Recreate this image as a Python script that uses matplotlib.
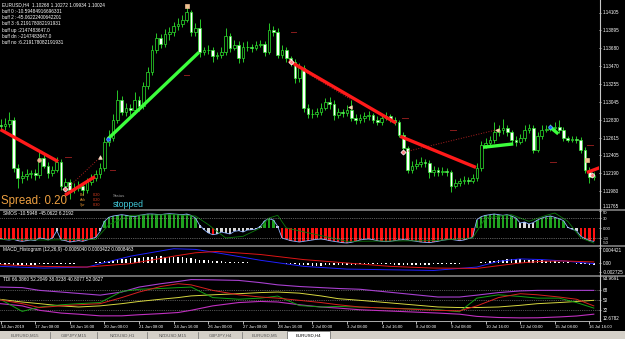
import numpy as np
import matplotlib
matplotlib.use('Agg')
import matplotlib.pyplot as plt
from matplotlib.lines import Line2D
from matplotlib.patches import Rectangle

plt.rcParams['font.family'] = ['Liberation Sans', 'DejaVu Sans']

# ---- EURUSD H4 candles (price) ----
first_open = 1.1277
closes = [
    1.1275, 1.1278, 1.1283, 1.1225, 1.1213, 1.1216, 1.1218, 1.1219, 1.1217, 1.1237,
    1.1228, 1.1219, 1.1223, 1.1232, 1.1204, 1.1209, 1.1199, 1.1202, 1.1204, 1.1199,
    1.1209, 1.1213, 1.1218, 1.1225, 1.1256, 1.1261, 1.1283, 1.1306, 1.1292, 1.1297,
    1.1294, 1.1306, 1.1299, 1.1323, 1.1340, 1.1366, 1.1380, 1.1373, 1.1385, 1.1387,
    1.1394, 1.1397, 1.1402, 1.1411, 1.1387, 1.1392, 1.1363, 1.1366, 1.1366, 1.1359,
    1.1360, 1.1363, 1.1382, 1.1368, 1.1372, 1.1356, 1.1370, 1.1369, 1.1368, 1.1372,
    1.1373, 1.1363, 1.1390, 1.1387, 1.1360, 1.1366, 1.1356, 1.1351, 1.1332, 1.1344,
    1.1297, 1.1290, 1.1290, 1.1292, 1.1297, 1.1304, 1.1302, 1.1288, 1.1292, 1.1291,
    1.1294, 1.1285, 1.1283, 1.1285, 1.1287, 1.1288, 1.1283, 1.1280, 1.1285, 1.1287,
    1.1283, 1.1280, 1.1265, 1.1249, 1.1223, 1.1228, 1.1230, 1.1232, 1.1231, 1.1220,
    1.1223, 1.1220, 1.1222, 1.1220, 1.1204, 1.1207, 1.1210, 1.1211, 1.1210, 1.1213,
    1.1225, 1.1253, 1.1255, 1.1259, 1.1268, 1.1271, 1.1273, 1.1268, 1.1259, 1.1256,
    1.1261, 1.1271, 1.1273, 1.1247, 1.1263, 1.1271, 1.1272, 1.1273, 1.1274, 1.1271,
    1.1261, 1.1259, 1.1260, 1.1259, 1.1247, 1.1223, 1.1215, 1.1216]
highs = [
    1.1284, 1.1285, 1.1292, 1.1286, 1.1230, 1.1222, 1.1224, 1.1223, 1.1224, 1.1244,
    1.1242, 1.1232, 1.1228, 1.1238, 1.1236, 1.1214, 1.1212, 1.1207, 1.1210, 1.1207,
    1.1214, 1.1218, 1.1223, 1.1231, 1.1262, 1.1270, 1.1290, 1.1318, 1.1311, 1.1303,
    1.1302, 1.1316, 1.1311, 1.1328, 1.1346, 1.1372, 1.1386, 1.1385, 1.1391, 1.1393,
    1.1399, 1.1404, 1.1408, 1.1418, 1.1414, 1.1398, 1.1403, 1.1370, 1.1372, 1.1370,
    1.1364, 1.1370, 1.1392, 1.1386, 1.1378, 1.1376, 1.1375, 1.1376, 1.1373, 1.1377,
    1.1378, 1.1376, 1.1398, 1.1395, 1.1392, 1.1372, 1.1370, 1.1359, 1.1355, 1.1350,
    1.1348, 1.1301, 1.1296, 1.1297, 1.1303, 1.1309, 1.1310, 1.1306, 1.1297, 1.1296,
    1.1300, 1.1306, 1.1290, 1.1290, 1.1292, 1.1293, 1.1291, 1.1287, 1.1289, 1.1292,
    1.1290, 1.1286, 1.1283, 1.1268, 1.1252, 1.1234, 1.1236, 1.1238, 1.1236, 1.1235,
    1.1228, 1.1226, 1.1226, 1.1225, 1.1223, 1.1212, 1.1214, 1.1216, 1.1215, 1.1218,
    1.1231, 1.1258, 1.1261, 1.1264, 1.1280, 1.1276, 1.1284, 1.1276, 1.1271, 1.1263,
    1.1266, 1.1277, 1.1278, 1.1276, 1.1268, 1.1276, 1.1277, 1.1278, 1.1280, 1.1282,
    1.1274, 1.1264, 1.1264, 1.1264, 1.1262, 1.1250, 1.1226, 1.1220]
lows = [
    1.1270, 1.1271, 1.1274, 1.1221, 1.1202, 1.1208, 1.1211, 1.1214, 1.1211, 1.1213,
    1.1225, 1.1214, 1.1216, 1.1220, 1.1199, 1.1198, 1.1189, 1.1195, 1.1198, 1.1193,
    1.1196, 1.1205, 1.1210, 1.1214, 1.1222, 1.1251, 1.1258, 1.1279, 1.1288, 1.1287,
    1.1288, 1.1290, 1.1293, 1.1296, 1.1319, 1.1336, 1.1362, 1.1368, 1.1370, 1.1378,
    1.1383, 1.1390, 1.1393, 1.1399, 1.1383, 1.1382, 1.1358, 1.1360, 1.1361, 1.1352,
    1.1355, 1.1356, 1.1360, 1.1364, 1.1366, 1.1350, 1.1352, 1.1365, 1.1364, 1.1366,
    1.1369, 1.1359, 1.1361, 1.1383, 1.1356, 1.1356, 1.1351, 1.1347, 1.1327, 1.1328,
    1.1292, 1.1285, 1.1285, 1.1286, 1.1289, 1.1294, 1.1296, 1.1283, 1.1285, 1.1286,
    1.1287, 1.1281, 1.1278, 1.1279, 1.1280, 1.1283, 1.1279, 1.1276, 1.1277, 1.1282,
    1.1280, 1.1276, 1.1262, 1.1246, 1.1219, 1.1219, 1.1224, 1.1226, 1.1227, 1.1214,
    1.1216, 1.1216, 1.1217, 1.1216, 1.1197, 1.1201, 1.1204, 1.1206, 1.1206, 1.1207,
    1.1210, 1.1222, 1.1249, 1.1251, 1.1255, 1.1264, 1.1266, 1.1263, 1.1255, 1.1252,
    1.1254, 1.1258, 1.1267, 1.1243, 1.1244, 1.1260, 1.1268, 1.1269, 1.1270, 1.1267,
    1.1258, 1.1256, 1.1256, 1.1255, 1.1243, 1.1219, 1.1208, 1.1211]

price_ticks = [1.14105, 1.13895, 1.13680, 1.13470, 1.13255, 1.13045,
               1.12830, 1.12615, 1.12405, 1.12190, 1.11980, 1.11765]

# trend segments drawn by the indicator (bar index, price)
seg_bar0 = [0, 14.9, 24.8, 66.6, 92.3, 111.4, 126.9, 135.4]
seg_p0 = [1.1271, 1.1193, 1.1260, 1.1353, 1.1263, 1.1250, 1.1274, 1.1220]
seg_bar1 = [13.3, 21.8, 45.8, 91.3, 109.8, 118.4, 128.8, 138.5]
seg_p1 = [1.1233, 1.1215, 1.1363, 1.1279, 1.1226, 1.1254, 1.1266, 1.1226]
seg_kind = ['dn', 'dn', 'up', 'dn', 'dn', 'up', 'up', 'dn']

dot_bar0 = [15.6, 67.3, 93.0]
dot_p0 = [1.1202, 1.1349, 1.1244]
dot_bar1 = [23.0, 81.2, 114.7]
dot_p1 = [1.1238, 1.1306, 1.1271]

mark_bars = [9.0, 15.0, 23.0, 24.8, 43.0, 67.0, 80.7, 93.0, 114.7, 126.9, 135.5, 136.5]
mark_prices = [1.1235, 1.1200, 1.1238, 1.1260, 1.1418, 1.1352, 1.1298, 1.1244,
               1.1271, 1.1274, 1.1235, 1.1217]
mark_kind = ['o', 'D', '^', 'b', 's', 'D', '<', 'D', '<', 'b', 's', 'D']

dash_bars = [15.6, 25.8, 43.0, 67.6, 93.4, 104.5, 127.6, 136.1]
dash_prices = [1.1238, 1.1223, 1.1336, 1.1387, 1.1285, 1.1271, 1.1233, 1.1253]

# ---- SMOS ----
smos = [
    -32, -35, -36, -34, -38, -40, -38, -36, -38, -30, -32, -36, -30,
    -8,
    -36, -38, -42, -40, -38, -40, -36, -32, -28,
    -10, 20,
    32, 36, 38, 40, 38, 36, 34, 38, 40, 42, 42, 41, 40, 42, 43, 42, 41, 40, 42, 38, 30,
    8, -5, -15, -20, -18, -12, -15, -18, -10, -8, -12, -6, -5, -3, 5,
    22, 28, 24,
    5,
    -30, -34, -38, -40, -42, -40, -38, -36, -34, -33, -35, -38, -40, -42, -44,
    -45, -43, -40, -36, -34, -33, -35, -38, -40, -41, -40, -38, -36, -35, -36,
    -38, -40, -42, -43, -44, -42, -40, -37, -35, -34, -36, -38, -36, -32, -28,
    25, 34, 38, 40, 42, 40, 38, 40, 36, 30,
    15, 18, 12, 16,
    24, 30, 34, 36, 32, 28, 22,
    2, -4, -8,
    -25, -32, -38, -40]
smos_sig_bars = [0, 10, 22, 25, 30, 40, 45, 48, 52, 56, 60, 62, 64, 66, 80,
                 100, 109, 112, 118, 122, 126, 128, 131, 134, 137]
smos_sig = [-34, -36, -34, 10, 38, 40, 36, 10, -30, -25, 0, 30, 38, 0, -40,
            -38, -30, 30, 40, 20, 38, 45, 20, -30, -45]

# ---- MACD histogram ----
macd_hist = [
    -0.0004, -0.0005, -0.0004, -0.0006, -0.0007, -0.0006, -0.0005, -0.0006, -0.0005, -0.0004,
    -0.0004, -0.0003, -0.0003, -0.0002, -0.0003, -0.0003, -0.0002, -0.0002, -0.0001,
    -0.0001, 0.0000, 0.0001, 0.0002, 0.0003,
    0.0005, 0.0007, 0.0009, 0.0011, 0.0012, 0.0013, 0.0014,
    0.0015, 0.0016, 0.0017, 0.0018, 0.0019, 0.0020, 0.0020, 0.0019, 0.0019, 0.0018, 0.0018, 0.0017,
    0.0016, 0.0014, 0.0012, 0.0010, 0.0009, 0.0008, 0.0007, 0.0006,
    0.0005, 0.0004, 0.0004, 0.0003, 0.0003, 0.0002, 0.0002, 0.0001, 0.0001, 0.0001,
    0.0001, 0.0001, 0.0000, 0.0000, -0.0001, -0.0002, -0.0003, -0.0004,
    -0.0005, -0.0006, -0.0007, -0.0008, -0.0008, -0.0008, -0.0007, -0.0007, -0.0006, -0.0006,
    -0.0006, -0.0005, -0.0005, -0.0005, -0.0004, -0.0004, -0.0004, -0.0004, -0.0003, -0.0003,
    -0.0003, -0.0004, -0.0005, -0.0006, -0.0007, -0.0007, -0.0007, -0.0006, -0.0006, -0.0005,
    -0.0005, -0.0004,
    -0.0004, -0.0003, -0.0003, -0.0002, -0.0002, -0.0002, -0.0001, -0.0001,
    0.0000, 0.0001, 0.0002, 0.0003,
    0.0005, 0.0007, 0.0009, 0.0010, 0.0011, 0.0012, 0.0012, 0.0011, 0.0010, 0.0010,
    0.0009, 0.0008, 0.0008,
    0.0007, 0.0006, 0.0005, 0.0004, 0.0003, 0.0002, 0.0001,
    -0.0002, -0.0003, -0.0004, -0.0005, -0.0006]
macd_bars = [0, 10, 20, 30, 40, 45, 50, 60, 70, 80, 90, 100, 110, 115, 120, 125, 130, 137]
macd_main = [-0.0010, -0.0015, -0.0012, 0.0020, 0.0042, 0.0040, 0.0030, 0.0008, -0.0010,
             -0.0018, -0.0020, -0.0022, -0.0012, 0.0005, 0.0012, 0.0010, 0.0006, -0.0002]
macd_signal = [-0.0005, -0.0010, -0.0012, -0.0002, 0.0020, 0.0030, 0.0034, 0.0025, 0.0010,
               0.0000, -0.0010, -0.0015, -0.0016, -0.0008, 0.0000, 0.0005, 0.0006, 0.0003]

# ---- TDI ----
tdi_bars = [0, 5, 9, 14, 18, 23, 28, 32, 37, 41, 44, 49, 55, 60, 64, 69, 74, 78, 83,
            92, 101, 106, 110, 115, 120, 124, 129, 133, 137]
tdi_upper = [74, 73, 68, 65, 62.5, 59.4, 65, 74, 80, 84, 87.5, 87, 86, 82, 78, 75, 73, 71.4,
             70, 63, 56, 56, 59.4, 64, 67, 68, 68, 68, 68]
tdi_lower = [44, 40, 32, 27, 25, 22, 22, 24, 26, 28, 32, 40, 46, 48, 47, 42, 38, 36, 33,
             30, 27, 25, 21, 19, 18.3, 18.5, 20, 21.7, 25]
tdi_mid = [51.7, 47, 44, 40, 38, 40, 44, 48, 52, 55, 58, 60, 62, 64, 65, 63, 58, 53, 50,
           44, 38, 37, 37, 38, 41, 44, 46, 48, 50]
tdi_rsi = [51.7, 30, 37.8, 42, 44, 46, 66, 70, 71.4, 73, 74, 55, 52, 54, 57.7, 40.6, 38, 39,
           37.8, 35.4, 33, 29.4, 54, 60, 57, 54, 54, 46, 36]
tdi_sig = [50.8, 44, 37, 40, 42, 44, 55, 65, 75, 80, 78, 68, 60, 56, 54, 50, 46, 42, 38,
           35, 32, 31, 40, 55, 62, 60, 56, 52, 40]

date_labels = ['14 Jun 2019', '17 Jun 08:00', '18 Jun 16:00', '20 Jun 00:00', '21 Jun 08:00',
               '24 Jun 16:00', '26 Jun 00:00', '27 Jun 08:00', '28 Jun 16:00', '2 Jul 00:00',
               '3 Jul 08:00', '4 Jul 16:00', '8 Jul 00:00', '9 Jul 08:00', '10 Jul 16:00',
               '12 Jul 00:00', '15 Jul 08:00', '16 Jul 16:00']
date_bars = [8 * k for k in range(len(date_labels))]

info_lines = ['EURUSD,H4  1.10268 1.10272 1.09934 1.10024',
              'buff 0 :-10.59484916696331',
              'buff 2 :-45.06222400642201',
              'buff 3 :6.219178082191931',
              'buff up :2147483647.0',
              'buff dn :-2147483647.0',
              'buff no :6.219178082191931']
tabs = ['EURUSD,M15', 'GBPJPY,M15', 'NZDUSD,H1', 'NZDUSD,M15', 'GBPJPY,H4', 'EURUSD,M5', 'EURUSD,H4']
tab_edges = [0, 50, 97, 147, 198, 242, 287, 330]

W, H = 625, 339
XMIN, XMAX = -0.12, 138.2
GREEN = '#2ee82e'

fig = plt.figure(figsize=(W / 100, H / 100), dpi=100, facecolor='black')


def panel(top, bottom):
    ax = fig.add_axes([0, 1 - bottom / H, 599 / W, (bottom - top) / H])
    ax.set_facecolor('black')
    for s in ax.spines.values():
        s.set_visible(False)
    ax.set_xlim(XMIN, XMAX)
    ax.tick_params(axis='x', bottom=False, labelbottom=False)
    ax.yaxis.tick_right()
    ax.tick_params(axis='y', colors='white', labelsize=3.3, length=1.5, width=0.5, pad=1)
    return ax


def set_right_labels(ax, ticks, labels, first_va='center', last_va='center'):
    # first tick is the top one, last is the bottom one; nudge them inside the panel
    ax.set_yticks(ticks)
    ax.set_yticklabels(labels)
    tl = ax.get_yticklabels()
    tl[0].set_va(first_va)
    tl[-1].set_va(last_va)


def ftext(x, y, s, **kw):
    fig.text(x / W, 1 - y / H, s, **kw)


# ---- main price panel ----
ax = panel(1, 209)
ax.set_ylim(1.11765, 1.14242)
x = np.arange(len(closes))
o = np.array([first_open] + closes[:-1])
c = np.array(closes)
ax.vlines(x, lows, highs, color=GREEN, lw=0.6, zorder=2)
body_col = np.where(c >= o, 'black', 'white')
ax.bar(x, c - o, bottom=o, width=0.62, color=body_col, edgecolor=GREEN, linewidth=0.5, zorder=3)
set_right_labels(ax, price_ticks, [f'{p:.5f}' for p in price_ticks], last_va='bottom')

for b0, p0, b1, p1 in zip(dot_bar0, dot_p0, dot_bar1, dot_p1):
    ax.plot([b0, b1], [p0, p1], color='#b02020', ls=':', lw=0.7, zorder=4)
for b0, p0, b1, p1, k in zip(seg_bar0, seg_p0, seg_bar1, seg_p1, seg_kind):
    col = '#ff1a1a' if k == 'dn' else '#3cff3c'
    ax.plot([b0, b1], [p0, p1], color=col, lw=2.4, solid_capstyle='butt', zorder=5)
for b, p in zip(dash_bars, dash_prices):
    ax.plot([b - 0.6, b + 0.6], [p, p], color='#8a1c1c', lw=0.7, zorder=4)
mark_style = {'o': ('o', '#f0b090', '#f0b090'), 'D': ('D', '#ff8080', 'white'),
              '^': ('^', '#f8e0c8', '#f8e0c8'), 'b': ('o', '#2050ff', '#60d0ff'),
              's': ('s', '#f0c090', '#f0c090'), '<': ('<', '#f8d8b0', '#f8d8b0')}
for b, p, k in zip(mark_bars, mark_prices, mark_kind):
    m, fc, ec = mark_style[k]
    ax.plot(b, p, marker=m, ms=2.6, mfc=fc, mec=ec, mew=0.5, zorder=6)

# ---- SMOS panel ----
ax_s = panel(210, 245)
ax_s.set_ylim(-51, 54)
smos_col = ['#1fa21f' if v >= 20 else ('#ff1010' if v <= -20 else '#d8d8d8') for v in smos]
ax_s.bar(x, smos, width=0.55, color=smos_col)
ax_s.plot(x, smos, color='#90b4ff', lw=0.6)
ax_s.plot(smos_sig_bars, smos_sig, color='#0c7a0c', lw=0.6)
for lv in (30, -30):
    ax_s.axhline(lv, color='#b0b0b0', ls=':', lw=0.5)
set_right_labels(ax_s, [50, 30, 0, -30, -50], ['50', '30', '0.00', '-30', '-50'],
                 first_va='top', last_va='bottom')
ax_s.tick_params(axis='y', labelsize=3.0)
ax_s.text(0.5, 50, 'SMOS -10.5948 -45.0622 6.2192', color='white', fontsize=3.4, va='top')

# ---- MACD panel ----
ax_m = panel(246, 275)
ax_m.set_ylim(-0.00354, 0.0050)
ax_m.bar(x, macd_hist, width=0.35, color='white')
ax_m.plot(macd_bars, macd_main, color='#2020ff', lw=0.7)
ax_m.plot(macd_bars, macd_signal, color='#e01515', lw=0.7)
set_right_labels(ax_m, [0.004421, 0.0, -0.002725], ['0.004421', '0.00', '-0.002725'],
                 first_va='top')
ax_m.text(0.5, 0.0048, 'MACD_Histogram (12,26,9) -0.0005040 0.0003422 0.0008463',
          color='white', fontsize=3.4, va='top')

# ---- TDI panel ----
ax_t = panel(276, 321)
ax_t.set_ylim(12.6782, 93.9691)
for lv in (68, 50, 32):
    ax_t.axhline(lv, color='#a0a0a0', ls=':', lw=0.5)
ax_t.plot(tdi_bars, tdi_upper, color='#a840d0', lw=0.8)
ax_t.plot(tdi_bars, tdi_lower, color='#c030c0', lw=0.8)
ax_t.plot(tdi_bars, tdi_mid, color='#d8d840', lw=0.7)
ax_t.plot(tdi_bars, tdi_rsi, color='#14a014', lw=0.7)
ax_t.plot(tdi_bars, tdi_sig, color='#d82020', lw=0.7)
set_right_labels(ax_t, [93.9691, 68, 50, 32, 12.6782], ['93.9691', '68', '50', '32', '12.6782'],
                 first_va='top', last_va='bottom')
ax_t.text(0.5, 92, 'TDI 66.3860 52.2049 38.0238 40.8077 52.0627', color='white', fontsize=3.4, va='top')
ax_t.set_xticks(date_bars)
ax_t.set_xticklabels(date_labels, ha='left')
ax_t.tick_params(axis='x', bottom=True, labelbottom=True, colors='white', labelsize=3.1,
                 length=2, width=0.5, pad=1.2)

# ---- separators / borders ----
for yy in (209.5, 245.5, 275.5):
    fig.add_artist(Line2D([0, 1], [1 - yy / H] * 2, color='#8c8c8c', lw=1.1))
fig.add_artist(Line2D([599.5 / W] * 2, [1 - 321 / H, 1], color='#c8c8c8', lw=0.8))
fig.add_artist(Line2D([0, 599.5 / W], [1 - 321 / H] * 2, color='#c8c8c8', lw=0.6))

# ---- overlay texts ----
for i, s in enumerate(info_lines):
    ftext(2, 5 + 6.3 * i, s, color='white', fontsize=3.4, va='center')
ftext(1, 201, 'Spread: 0.20', color='#eea040', fontsize=8.3, va='center')
for i, (lab, val) in enumerate(zip(['Bid', 'Ask', 'Spr'], ['0.20', '0.20', '0.30'])):
    ftext(80, 195 + 5 * i, lab, color='#e09030', fontsize=2.6, va='center')
    ftext(93, 195 + 5 * i, val, color='#e04020', fontsize=2.8, va='center')
ftext(113, 196, 'Status', color='#9a9a9a', fontsize=3.2, va='center')
ftext(113, 204, 'stopped', color='#40c8d8', fontsize=6.2, va='center')

# ---- bottom tab bar ----
fig.add_artist(Rectangle((0, 0), 1, 8 / H, transform=fig.transFigure,
                         facecolor='#d4d0c8', edgecolor='none'))
fig.add_artist(Rectangle((tab_edges[-2] / W, 0), (tab_edges[-1] - tab_edges[-2]) / W, 8 / H,
                         transform=fig.transFigure, facecolor='white', edgecolor='#606060', lw=0.5))
for i, name in enumerate(tabs):
    cx = (tab_edges[i] + tab_edges[i + 1]) / 2
    ftext(cx, 336, name, color='black' if i == len(tabs) - 1 else '#555555',
          fontsize=3.2, ha='center', va='center')
    if 0 < i < len(tabs) - 1:
        fig.add_artist(Line2D([tab_edges[i] / W] * 2, [0, 7 / H], color='#707070', lw=0.5))

fig.savefig('out.png', dpi=100, facecolor='black')
